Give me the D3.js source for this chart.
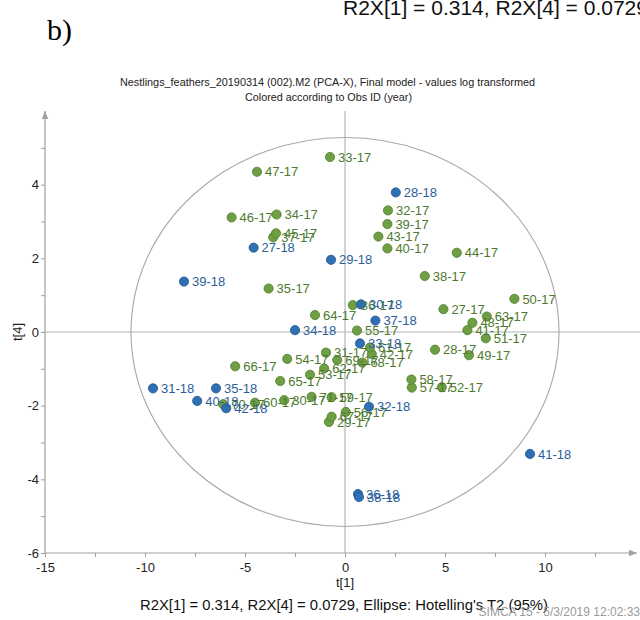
<!DOCTYPE html>
<html>
<head>
<meta charset="utf-8">
<script src="https://cdn.jsdelivr.net/npm/d3@7"></script>
<style>
  body { margin: 0; background: #fff; }
  text { font-family: "Liberation Sans", Arial, sans-serif; }
</style>
</head>
<body>
<svg id="chart" width="640" height="620"></svg>
<script>
// PCA-X score plot, t[1] vs t[4], observations coloured by year

// 2017 nestlings
const obs17 = ["27-17","28-17","29-17","30-17","31-17","32-17","33-17","34-17","35-17","36-17",
               "37-17","38-17","39-17","40-17","41-17","42-17","43-17","44-17","45-17","46-17",
               "47-17","48-17","49-17","50-17","51-17","52-17","53-17","54-17","55-17","56-17",
               "57-17","58-17","59-17","60-17","61-17","62-17","63-17","64-17","65-17","66-17",
               "67-17","68-17","69-17","70-17","71-17"];
const t1_17 = [4.92, 4.50, -0.80, -3.04, -0.95, 2.15, -0.75, -3.42, -3.82, 0.39,
               -3.59, 3.99, 2.12, 2.12, 6.12, 1.34, 1.67, 5.59, -3.45, -5.67,
               -4.40, 6.37, 6.20, 8.47, 7.04, 4.84, -1.75, -2.89, 0.60, 0.04,
               3.34, 3.32, -0.67, -4.50, 1.25, -1.04, 7.09, -1.50, -3.24, -5.49,
               -0.67, 0.87, -0.39, -6.09, -1.67];
const t4_17 = [0.62, -0.48, -2.44, -1.85, -0.56, 3.30, 4.75, 3.19, 1.18, 0.73,
               2.57, 1.52, 2.93, 2.27, 0.05, -0.60, 2.59, 2.15, 2.68, 3.11,
               4.35, 0.25, -0.63, 0.90, -0.17, -1.50, -1.16, -0.73, 0.04, -2.17,
               -1.51, -1.29, -1.77, -1.92, -0.42, -0.99, 0.42, 0.46, -1.33, -0.93,
               -2.30, -0.83, -0.76, -1.96, -1.76];

// 2018 nestlings
const obs18 = ["27-18","28-18","29-18","30-18","31-18","32-18","33-18","34-18",
               "35-18","36-18","37-18","38-18","39-18","40-18","41-18","42-18"];
const t1_18 = [-4.57, 2.54, -0.70, 0.80, -9.60, 1.20, 0.75, -2.50,
               -6.45, 0.65, 1.52, 0.70, -8.05, -7.39, 9.25, -5.94];
const t4_18 = [2.29, 3.79, 1.96, 0.75, -1.53, -2.03, -0.31, 0.05,
               -1.53, -4.40, 0.31, -4.48, 1.37, -1.87, -3.31, -2.07];

const xTickLabels = [-15, -10, -5, 0, 5, 10];
const yTickLabels = [-6, -4, -2, 0, 2, 4];
// Hotelling's T2 (95%) ellipse semi-axes in t[1], t[4] units
const ellipseT1 = 10.7;
const ellipseT4 = 5.28;

const svg = d3.select("#chart");

const x = d3.scaleLinear().domain([-15, 14.6]).range([45, 637]);
const y = d3.scaleLinear().domain([-6, 6]).range([553, 111]);

const axisGrey = "#a0a0a0";

svg.append("defs").append("marker")
  .attr("id", "arrow")
  .attr("viewBox", "0 0 10 10")
  .attr("refX", 10).attr("refY", 5)
  .attr("markerWidth", 10).attr("markerHeight", 8)
  .attr("markerUnits", "userSpaceOnUse")
  .attr("orient", "auto")
  .append("path").attr("d", "M0,1 L10,5 L0,9 Z").attr("fill", axisGrey);

// zero lines
svg.append("line")
  .attr("x1", x(-15)).attr("x2", 640)
  .attr("y1", y(0)).attr("y2", y(0))
  .attr("stroke", "#b4b4b4").attr("stroke-width", 1.2);
svg.append("line")
  .attr("x1", x(0)).attr("x2", x(0))
  .attr("y1", y(6)).attr("y2", y(-6))
  .attr("stroke", "#b4b4b4").attr("stroke-width", 1.2);

// confidence ellipse
svg.append("ellipse")
  .attr("cx", x(0)).attr("cy", y(0))
  .attr("rx", x(ellipseT1) - x(0))
  .attr("ry", y(0) - y(ellipseT4))
  .attr("fill", "none")
  .attr("stroke", "#a8a8a8").attr("stroke-width", 1.1);

// axes
const xAxis = d3.axisBottom(x)
  .tickValues(d3.range(-15, 14.1, 2.5))
  .tickSize(4)
  .tickFormat(d => xTickLabels.includes(d) ? d : "");
const gx = svg.append("g").attr("transform", `translate(0,${y(-6)})`).call(xAxis);
gx.select(".domain").remove();
gx.selectAll(".tick line").attr("stroke", axisGrey);
gx.selectAll(".tick text").attr("font-size", 13).attr("fill", "#222").attr("dy", "0.9em")
  .style("font-family", "'Liberation Sans', Arial, sans-serif");
svg.append("line")
  .attr("x1", x(-15)).attr("x2", x(14.6))
  .attr("y1", y(-6)).attr("y2", y(-6))
  .attr("stroke", axisGrey).attr("stroke-width", 1.2)
  .attr("marker-end", "url(#arrow)");

const yAxis = d3.axisLeft(y)
  .tickValues(d3.range(-6, 5.1, 1))
  .tickSize(4)
  .tickFormat(d => yTickLabels.includes(d) ? d : "");
const gy = svg.append("g").attr("transform", `translate(${x(-15)},0)`).call(yAxis);
gy.select(".domain").remove();
gy.selectAll(".tick line").attr("stroke", axisGrey);
gy.selectAll(".tick text").attr("font-size", 13).attr("fill", "#222").attr("x", -6)
  .style("font-family", "'Liberation Sans', Arial, sans-serif");
svg.append("line")
  .attr("x1", x(-15)).attr("x2", x(-15))
  .attr("y1", y(-6)).attr("y2", y(6))
  .attr("stroke", axisGrey).attr("stroke-width", 1.2)
  .attr("marker-end", "url(#arrow)");

// observations
const groups = [
  { names: obs17, t1: t1_17, t4: t4_17, fill: "#6e9f44", stroke: "#4f7d2c", label: "#4d7a2e" },
  { names: obs18, t1: t1_18, t4: t4_18, fill: "#2f70b4", stroke: "#1f5690", label: "#2b5e9a" }
];

const dots = svg.append("g");
const labels = svg.append("g");
groups.forEach(g => {
  const rows = g.names.map((n, i) => ({ n, a: g.t1[i], b: g.t4[i] }));
  dots.selectAll(null).data(rows).enter().append("circle")
    .attr("cx", d => x(d.a)).attr("cy", d => y(d.b))
    .attr("r", 4.6)
    .attr("fill", g.fill).attr("stroke", g.stroke).attr("stroke-width", 0.8);
  labels.selectAll(null).data(rows).enter().append("text")
    .attr("x", d => x(d.a) + 8).attr("y", d => y(d.b))
    .attr("dy", "0.36em")
    .attr("font-size", 13)
    .attr("fill", g.label)
    .text(d => d.n);
});

// titles and captions
svg.append("text").attr("x", 47).attr("y", 40)
  .style("font-family", "'Liberation Serif', 'Times New Roman', serif")
  .attr("font-size", 30).attr("fill", "#000").text("b)");

svg.append("text").attr("x", 343).attr("y", 15)
  .attr("font-size", 20).attr("fill", "#111")
  .attr("textLength", 305).attr("lengthAdjust", "spacingAndGlyphs")
  .text("R2X[1] = 0.314, R2X[4] = 0.0729");

svg.append("text").attr("x", 120).attr("y", 86)
  .attr("font-size", 11).attr("fill", "#222")
  .attr("textLength", 415).attr("lengthAdjust", "spacingAndGlyphs")
  .text("Nestlings_feathers_20190314 (002).M2 (PCA-X), Final model - values log transformed");
svg.append("text").attr("x", 245).attr("y", 101)
  .attr("font-size", 11).attr("fill", "#222")
  .attr("textLength", 167).attr("lengthAdjust", "spacingAndGlyphs")
  .text("Colored according to Obs ID (year)");

svg.append("text").attr("x", x(0)).attr("y", 587)
  .attr("text-anchor", "middle").attr("font-size", 13).attr("fill", "#222")
  .text("t[1]");
svg.append("text")
  .attr("transform", `translate(22,${y(0)}) rotate(-90)`)
  .attr("text-anchor", "middle").attr("font-size", 13).attr("fill", "#222")
  .text("t[4]");

svg.append("text").attr("x", 140).attr("y", 610)
  .attr("font-size", 14).attr("fill", "#111")
  .attr("textLength", 408).attr("lengthAdjust", "spacingAndGlyphs")
  .text("R2X[1] = 0.314, R2X[4] = 0.0729, Ellipse: Hotelling's T2 (95%)");
svg.append("text").attr("x", 640).attr("y", 616)
  .attr("text-anchor", "end").attr("font-size", 12).attr("fill", "#9a9a9a")
  .text("SIMCA 15 - 5/3/2019 12:02:33");
</script>
</body>
</html>
